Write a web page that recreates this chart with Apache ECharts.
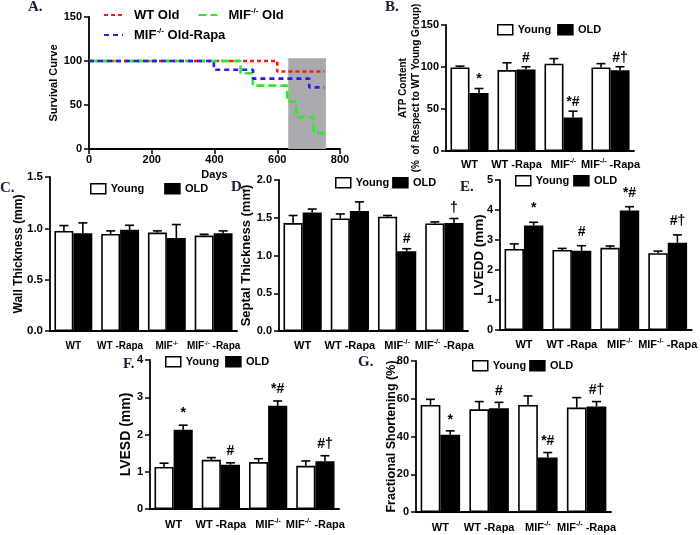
<!DOCTYPE html>
<html><head><meta charset="utf-8">
<script src="https://cdn.jsdelivr.net/npm/echarts/dist/echarts.min.js"></script>
<style>html,body{margin:0;padding:0;background:#fff}#c{width:700px;height:535px}</style>
</head><body><div id="c"></div>
<script>
var FONT = '"Liberation Sans", Arial, sans-serif';
var categories = ['WT', 'WT -Rapa', 'MIF-/-', 'MIF-/- -Rapa'];
var groupNames = ['Young', 'OLD'];

// Panel A: survival
var wtOldDays = [0, 600, 750];
var wtOldSurv = [100, 88, 88];
var mifOldDays = [0, 483, 522, 632, 660, 716, 750];
var mifOldSurv = [100, 86, 72, 54, 36, 18, 18];
var mifRapaDays = [0, 398, 523, 702, 750];
var mifRapaSurv = [100, 90, 80, 70, 70];
var shadeBand = [635, 755, 103];
var survNames = ['WT Old', 'MIF-/- Old', 'MIF-/- Old-Rapa'];

// Panel B: ATP content
var atpYoung = [99.5, 96.3, 104, 99.5];
var atpYoungErr = [101, 105, 110, 104];
var atpOld = [69, 97, 40, 96];
var atpOldErr = [74.4, 100.3, 47.4, 100.3];
var atpSig = ['*', '#', '*#', '#\u2020'];

// Panel C: wall thickness
var wallYoung = [0.975, 0.946, 0.959, 0.929];
var wallYoungErr = [1.027, 0.975, 0.975, 0.942];
var wallOld = [0.952, 0.985, 0.906, 0.952];
var wallOldErr = [1.053, 1.03, 1.037, 0.975];
var wallSig = ['', '', '', ''];

// Panel D: septal thickness
var septYoung = [1.43, 1.49, 1.514, 1.425];
var septYoungErr = [1.53, 1.55, 1.53, 1.445];
var septOld = [1.57, 1.59, 1.055, 1.43];
var septOldErr = [1.615, 1.71, 1.09, 1.49];
var septSig = ['', '', '#', '\u2020'];

// Panel E: LVEDD
var lveddYoung = [2.7, 2.67, 2.74, 2.56];
var lveddYoungErr = [2.87, 2.72, 2.8, 2.63];
var lveddOld = [3.48, 2.64, 3.98, 2.91];
var lveddOldErr = [3.59, 2.81, 4.11, 3.17];
var lveddSig = ['*', '#', '*#', '#\u2020'];

// Panel F: LVESD
var lvesdYoung = [1.13, 1.32, 1.26, 1.16];
var lvesdYoungErr = [1.23, 1.38, 1.35, 1.29];
var lvesdOld = [2.13, 1.19, 2.77, 1.28];
var lvesdOldErr = [2.25, 1.24, 2.9, 1.43];
var lvesdSig = ['*', '#', '*#', '#\u2020'];

// Panel G: fractional shortening
var fsYoung = [56.7, 54.4, 56.7, 55.3];
var fsYoungErr = [59.7, 58.5, 61.5, 60.6];
var fsOld = [40.9, 55, 28.9, 55.9];
var fsOldErr = [43, 58.1, 31.5, 58.5];
var fsSig = ['*', '#', '*#', '#\u2020'];

function richName(s) {
  var parts = s.split('MIF-/-');
  var out = '';
  for (var k = 0; k < parts.length; k++) {
    if (parts[k]) out += '{b|' + parts[k] + '}';
    if (k < parts.length - 1) out += '{b|MIF}{s|-/-}';
  }
  return out;
}
function richSet(fs) {
  return {
    b: { fontSize: fs, fontWeight: 'bold', fontFamily: FONT, color: '#000', lineHeight: fs + 3 },
    s: { fontSize: Math.round(fs * 0.6), fontWeight: 'bold', fontFamily: FONT, color: '#000', lineHeight: Math.round(fs * 0.6), verticalAlign: 'top' },
    g: { width: 6 }
  };
}
function zip(a, b) { return a.map(function (v, i) { return [v, b[i]]; }); }
function errData(bar, err) { return bar.map(function (v, i) { return [i, err[i], v]; }); }

var panels = [
  { key: 'B', grid: { left: 446, top: 25, width: 188, height: 126 }, min: 0, max: 150, interval: 50, dec: 0,
    young: atpYoung, youngErr: atpYoungErr, old: atpOld, oldErr: atpOldErr, sig: atpSig,
    name: 'ATP Content\n(%  of Respect to WT Young Group)', nameSize: 10, nameGap: 23, lab: 11, xlab: 11, xMargin: 7,
    legend: { left: 497, cy: 30, gap: 6 }, sigGap: 2 },
  { key: 'C', grid: { left: 50, top: 177, width: 187, height: 154 }, min: 0, max: 1.5, interval: 0.5, dec: 1,
    young: wallYoung, youngErr: wallYoungErr, old: wallOld, oldErr: wallOldErr, sig: wallSig,
    name: 'Wall Thickness (mm)', nameSize: 12, nameGap: 24, lab: 11.5, xlab: 10, xMargin: 9,
    legend: { left: 90, cy: 189, gap: 20 }, sigGap: 2 },
  { key: 'D', grid: { left: 279, top: 180, width: 189, height: 151 }, min: 0, max: 2, interval: 0.5, dec: 1,
    young: septYoung, youngErr: septYoungErr, old: septOld, oldErr: septOldErr, sig: septSig,
    name: 'Septal Thickness (mm)', nameSize: 13, nameGap: 25, lab: 11, xlab: 11, xMargin: 8,
    legend: { left: 335, cy: 183, gap: 3 }, sigGap: 3 },
  { key: 'E', grid: { left: 500, top: 180, width: 194, height: 150 }, min: 0, max: 5, interval: 1, dec: 0,
    young: lveddYoung, youngErr: lveddYoungErr, old: lveddOld, oldErr: lveddOldErr, sig: lveddSig,
    name: 'LVEDD (mm)', nameSize: 13.5, nameGap: 12, lab: 11, xlab: 11, xMargin: 8,
    legend: { left: 515, cy: 181, gap: 4 }, sigGap: 7 },
  { key: 'F', grid: { left: 150, top: 360, width: 189, height: 149 }, min: 0, max: 4, interval: 1, dec: 0,
    young: lvesdYoung, youngErr: lvesdYoungErr, old: lvesdOld, oldErr: lvesdOldErr, sig: lvesdSig,
    name: 'LVESD (mm)', nameSize: 14, nameGap: 15, lab: 11, xlab: 11, xMargin: 9,
    legend: { left: 165, cy: 362, gap: 6 }, sigGap: 5 },
  { key: 'G', grid: { left: 416, top: 361, width: 195, height: 151 }, min: 0, max: 80, interval: 20, dec: 0,
    young: fsYoung, youngErr: fsYoungErr, old: fsOld, oldErr: fsOldErr, sig: fsSig,
    name: 'Fractional Shortening (%)', nameSize: 12.5, nameGap: 17, lab: 11, xlab: 11, xMargin: 9,
    legend: { left: 472, cy: 366, gap: 3 }, sigGap: 4 }
];

function makeErr(side, labels, gapUp) {
  return function (params, api) {
    var top = api.value(1), base = api.value(2), i = api.value(0);
    var c = api.coord([i, top]);
    var b = api.coord([i, base]);
    var band = api.size([1, 0])[0];
    var x = c[0] + side * band * 0.81 / 4;
    var kids = [
      { type: 'line', shape: { x1: x, y1: b[1], x2: x, y2: c[1] }, style: { stroke: '#000', lineWidth: 1.6 } },
      { type: 'line', shape: { x1: x - 4.5, y1: c[1], x2: x + 4.5, y2: c[1] }, style: { stroke: '#000', lineWidth: 1.6 } }
    ];
    var t = labels ? labels[params.dataIndex] : '';
    if (t) {
      kids.push({ type: 'text', style: { text: t, x: x, y: c[1] - gapUp, align: 'center', verticalAlign: 'bottom',
        font: 'bold 14px ' + FONT, fill: '#000' } });
    }
    return { type: 'group', children: kids };
  };
}

var grids = [{ left: 89, top: 17, width: 251, height: 132 }];
var xAxes = [{
  gridIndex: 0, type: 'value', min: 0, max: 800, interval: 200,
  name: 'Days', nameLocation: 'middle', nameGap: 20, nameMoveOverlap: false,
  nameTextStyle: { fontFamily: FONT, fontWeight: 'bold', fontSize: 11, color: '#000' },
  axisLine: { lineStyle: { color: '#000', width: 1.8 } },
  axisTick: { length: 5, lineStyle: { color: '#000', width: 1.5 } },
  axisLabel: { fontFamily: FONT, fontWeight: 'bold', fontSize: 11, color: '#000', margin: 5 },
  splitLine: { show: false }
}];
var yAxes = [{
  gridIndex: 0, type: 'value', min: 0, max: 150, interval: 50,
  name: 'Survival Curve', nameLocation: 'middle', nameGap: 30, nameMoveOverlap: false,
  nameTextStyle: { fontFamily: FONT, fontWeight: 'bold', fontSize: 11, color: '#000' },
  axisLine: { show: true, lineStyle: { color: '#000', width: 1.8 } },
  axisTick: { show: true, length: 5, lineStyle: { color: '#000', width: 1.5 } },
  axisLabel: { fontFamily: FONT, fontWeight: 'bold', fontSize: 11, color: '#000', margin: 7 },
  splitLine: { show: false }
}];
var series = [
  { type: 'custom', name: 'shade', xAxisIndex: 0, yAxisIndex: 0, z: 1, silent: true,
    data: [shadeBand], encode: { x: [0, 1], y: 2 },
    renderItem: function (params, api) {
      var p0 = api.coord([api.value(0), api.value(2)]);
      var p1 = api.coord([api.value(1), 0]);
      return { type: 'rect', shape: { x: p0[0], y: p0[1], width: p1[0] - p0[0], height: p1[1] - p0[1] }, style: { fill: '#a9a9ae' } };
    } },
  { type: 'line', name: survNames[0], xAxisIndex: 0, yAxisIndex: 0, z: 3, step: 'end', symbol: 'none',
    data: zip(wtOldDays, wtOldSurv), itemStyle: { color: '#f01c1c' },
    lineStyle: { color: '#f01c1c', width: 2.6, type: [4, 3] } },
  { type: 'line', name: survNames[1], xAxisIndex: 0, yAxisIndex: 0, z: 4, step: 'end', symbol: 'none',
    data: zip(mifOldDays, mifOldSurv), itemStyle: { color: '#2ee82a' },
    lineStyle: { color: '#2ee82a', width: 2.6, type: [8, 4] } },
  { type: 'line', name: survNames[2], xAxisIndex: 0, yAxisIndex: 0, z: 5, step: 'end', symbol: 'none',
    data: zip(mifRapaDays, mifRapaSurv), itemStyle: { color: '#2020e8' },
    lineStyle: { color: '#2020e8', width: 2.6, type: [5, 4] } }
];
var lineLegendBase = { itemWidth: 19, itemHeight: 10, padding: 0, itemStyle: { opacity: 0 },
  formatter: function (n) { return '{g|}' + richName(n); }, textStyle: { rich: richSet(13) } };
var legends = [
  Object.assign({ data: [survNames[0], survNames[1]], left: 103, top: 7, itemGap: 18 }, lineLegendBase),
  Object.assign({ data: [survNames[2]], left: 103, top: 27 }, lineLegendBase)
];
var graphics = [
  { t: 'A.', x: 28, y: 0 }, { t: 'B.', x: 385, y: 0 }, { t: 'C.', x: 0, y: 181 },
  { t: 'D.', x: 231, y: 180 }, { t: 'E.', x: 460, y: 180 }, { t: 'F.', x: 123, y: 357 }, { t: 'G.', x: 358, y: 355 }
].map(function (g) {
  return { type: 'text', left: g.x, top: g.y, style: { text: g.t, font: 'bold 15px "Liberation Serif", "Times New Roman", serif', fill: '#1a1a3a' } };
});

panels.forEach(function (p, k) {
  var gi = k + 1;
  grids.push(p.grid);
  xAxes.push({
    gridIndex: gi, type: 'category', data: categories,
    axisLine: { lineStyle: { color: '#000', width: 1.8 } },
    axisTick: { show: false },
    axisLabel: { interval: 0, hideOverlap: false, margin: p.xMargin, formatter: richName, rich: richSet(p.xlab) },
    splitLine: { show: false }
  });
  yAxes.push({
    gridIndex: gi, type: 'value', min: p.min, max: p.max, interval: p.interval,
    name: p.name, nameLocation: 'middle', nameGap: p.nameGap, nameMoveOverlap: false,
    nameTextStyle: { fontFamily: FONT, fontWeight: 'bold', fontSize: p.nameSize, color: '#000', lineHeight: p.nameSize + 3 },
    axisLine: { show: true, lineStyle: { color: '#000', width: 1.8 } },
    axisTick: { show: true, length: 5, lineStyle: { color: '#000', width: 1.5 } },
    axisLabel: { fontFamily: FONT, fontWeight: 'bold', fontSize: p.lab, color: '#000', margin: 7,
      formatter: (function (d) { return function (v) { return v.toFixed(d); }; })(p.dec) },
    splitLine: { show: false }
  });
  series.push({ type: 'bar', name: groupNames[0], xAxisIndex: gi, yAxisIndex: gi, data: p.young, z: 2,
    barGap: '0%', barCategoryGap: '19%', itemStyle: { color: '#fff', borderColor: '#000', borderWidth: 1.6 } });
  series.push({ type: 'bar', name: groupNames[1], xAxisIndex: gi, yAxisIndex: gi, data: p.old, z: 2,
    barGap: '0%', barCategoryGap: '19%', itemStyle: { color: '#000', borderColor: '#000', borderWidth: 1.6 } });
  series.push({ type: 'custom', xAxisIndex: gi, yAxisIndex: gi, z: 3, silent: true, encode: { x: 0, y: 1 },
    data: errData(p.young, p.youngErr), renderItem: makeErr(-1, null, 0) });
  series.push({ type: 'custom', xAxisIndex: gi, yAxisIndex: gi, z: 3, silent: true, encode: { x: 0, y: 1 },
    data: errData(p.old, p.oldErr), renderItem: makeErr(1, p.sig, p.sigGap) });
  legends.push({ data: groupNames, left: p.legend.left, top: p.legend.cy - 6, icon: 'rect', itemWidth: 15, itemHeight: 10,
    itemGap: p.legend.gap, padding: 0, itemStyle: { borderColor: '#000', borderWidth: 1.5 },
    textStyle: { fontFamily: FONT, fontWeight: 'bold', fontSize: 11, color: '#000' } });
});

var chart = echarts.init(document.getElementById('c'), null, { renderer: 'canvas' });
chart.setOption({
  backgroundColor: '#fff',
  animation: false,
  grid: grids, xAxis: xAxes, yAxis: yAxes, series: series, legend: legends, graphic: graphics
});
</script></body></html>
